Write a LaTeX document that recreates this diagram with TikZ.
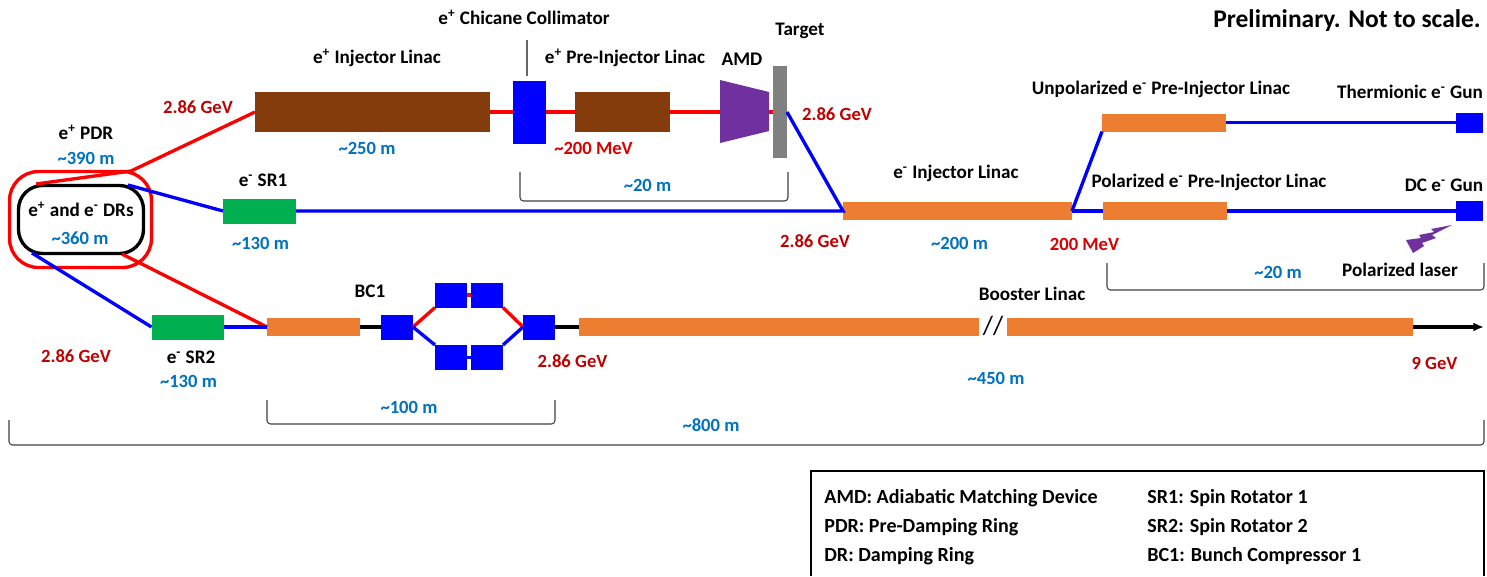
\documentclass[tikz,border=0pt]{standalone}
\usepackage{fontspec}
\setmainfont{Carlito}
\usetikzlibrary{arrows.meta}
\definecolor{beamred}{HTML}{FF0000}
\definecolor{beamblue}{HTML}{0000FF}
\definecolor{linacorange}{HTML}{ED7D31}
\definecolor{linacbrown}{HTML}{843C0C}
\definecolor{rotgreen}{HTML}{00B050}
\definecolor{amdpurple}{HTML}{7030A0}
\definecolor{energyred}{HTML}{C00000}
\definecolor{lengthblue}{HTML}{0070C0}
\tikzset{
  blockbox/.style={inner sep=0pt, outer sep=0pt},
  brownbox/.style={blockbox, fill=linacbrown, minimum height=0.8cm},
  orangebox/.style={blockbox, fill=linacorange, minimum height=0.36cm},
  greenbox/.style={blockbox, fill=rotgreen, minimum width=1.46cm, minimum height=0.5cm},
  magnet/.style={blockbox, fill=beamblue, minimum width=0.64cm, minimum height=0.5cm},
  lab/.style={font=\fontsize{10.9pt}{12pt}\selectfont\bfseries, text=black, inner sep=0pt},
  keylab/.style={lab, font=\fontsize{11.4pt}{13pt}\selectfont\bfseries, anchor=base west},
  enlab/.style={lab, font=\fontsize{10.6pt}{12pt}\selectfont\bfseries, text=energyred},
  distlab/.style={enlab, text=lengthblue},
  redline/.style={beamred, line width=1.9pt},
  blueline/.style={beamblue, line width=1.9pt},
  blackline/.style={black, line width=1.9pt},
  spanline/.style={black!75, line width=0.6pt, rounded corners=2pt},
}
\begin{document}
\begin{tikzpicture}[>={Latex[length=6pt,width=5pt]}, x=0.02cm, y=-0.02cm]
\useasboundingbox (0,0) rectangle (1487,576);

\node[blockbox, draw=beamred, line width=1.9pt, rounded corners=0.58cm, minimum width=2.84cm, minimum height=1.92cm] (pdrring) at (80.5,219.5) {};
\node[blockbox, draw=black, line width=1.9pt, rounded corners=0.48cm, minimum width=2.5cm, minimum height=1.36cm] (drring) at (81,219.5) {};

\node[brownbox, minimum width=4.7cm] (inlinac) at (372.5,112) {};
\node[magnet, minimum height=1.26cm, minimum width=0.66cm] (collimator) at (529.5,112) {};
\node[brownbox, minimum width=1.9cm] (prelinac) at (622.5,112) {};
\node[blockbox, fill=black!50, minimum width=0.28cm, minimum height=1.84cm] (target) at (780,112) {};
\fill[amdpurple] (720,80) -- (769,92) -- (769,131) -- (720,143) -- cycle;
\coordinate (amdin) at (720,112);
\coordinate (amdout) at (769,112);

\node[orangebox, minimum width=4.58cm] (emlinac) at (957.5,211) {};
\node[orangebox, minimum width=2.48cm] (unpollinac) at (1164,122.5) {};
\node[orangebox, minimum width=2.48cm] (pollinac) at (1165,211) {};
\node[magnet, minimum width=0.54cm, minimum height=0.4cm] (thermgun) at (1469.5,122.5) {};
\node[magnet, minimum width=0.54cm, minimum height=0.4cm] (dcgun) at (1469.5,211) {};

\node[greenbox] (srone) at (259.5,211) {};
\node[greenbox] (srtwo) at (188,327) {};
\node[orangebox, minimum width=1.86cm] (bclinac) at (313.5,327) {};
\node[magnet] (bcin) at (397,327) {};
\node[magnet] (bcupa) at (451,295) {};
\node[magnet] (bcupb) at (487,295) {};
\node[magnet] (bclowa) at (451,357.5) {};
\node[magnet] (bclowb) at (487,357.5) {};
\node[magnet] (bcout) at (539,327) {};
\node[orangebox, minimum width=8cm] (boosta) at (779,327) {};
\node[orangebox, minimum width=8.12cm] (boostb) at (1210,327) {};
\coordinate (beamend) at (1484,327);

\coordinate (pdrtop) at (131,171);
\coordinate (pdrin) at (36,184);
\coordinate (srinjoin) at (128,185);
\coordinate (drout) at (122,254);
\coordinate (drlow) at (32,253);
\coordinate (bcinjoin) at (267,327);
\coordinate (emjoin) at (843,211);
\coordinate (gunjoin) at (1072,211);
\coordinate (targetout) at (787,112);

\draw[redline] (inlinac.west) -- (pdrtop) -- (pdrin);
\draw[redline] (inlinac.east) -- (collimator.west);
\draw[redline] (collimator.east) -- (prelinac.west);
\draw[redline] (prelinac.east) -- (amdin);
\draw[redline] (amdout) -- (target.west);
\draw[redline] (drout) -- (bcinjoin);
\draw[blueline] (targetout) -- (emjoin) -- (srone.east);
\draw[blueline] (srone.west) -- (srinjoin);
\draw[blueline] (drlow) -- (srtwo.west);
\draw[blueline] (srtwo.east) -- (bcinjoin);
\draw[blueline] (gunjoin) -- (unpollinac.south west);
\draw[blueline] (gunjoin) -- (pollinac.west);
\draw[blueline] (unpollinac.east) -- (thermgun.west);
\draw[blueline] (pollinac.east) -- (dcgun.west);
\draw[blackline] (bclinac.east) -- (bcin.west);
\draw[blackline] (bcout.east) -- (boosta.west);
\draw[blackline, ->] (boostb.east) -- (beamend);
\draw[redline] (bcin.east) -- (bcupa.south west);
\draw[redline] (bcupa.east) -- (bcupb.west);
\draw[redline] (bcupb.south east) -- (bcout.west);
\draw[blueline] (bcin.east) -- (bclowa.north west);
\draw[blueline] (bclowa.east) -- (bclowb.west);
\draw[blueline] (bclowb.north east) -- (bcout.west);

\coordinate (colltop) at (527,40);
\draw[black!60, line width=0.7pt] (colltop) -- (527,76);

\fill[amdpurple] (1452,225) -- (1431,229) -- (1434,232) -- (1419,235) -- (1421,238) -- (1406,240) -- (1413,253) -- (1424,246) -- (1422,243) -- (1436,238) -- (1432,235) -- cycle;

\draw[spanline] (520,172) -- (520,201) -- (788,201) -- (788,172);
\draw[spanline] (1107,263) -- (1107,290) -- (1484,290) -- (1484,263);
\draw[spanline] (267,400) -- (267,424) -- (555,424) -- (555,400);
\draw[spanline] (9,420) -- (9,445) -- (1484,445) -- (1484,420);

\node[lab] (chicanelab) at (524,17) {e\textsuperscript{+} Chicane Collimator};
\node[lab] (targetlab) at (800,31) {Target};
\node[lab, font=\fontsize{14.5pt}{16pt}\selectfont\bfseries] (prelimlab) at (1347,21) {Preliminary. Not to scale.};
\node[lab] (inlinaclab) at (377,58) {e\textsuperscript{+} Injector Linac};
\node[lab] (prelinaclab) at (625,58) {e\textsuperscript{+} Pre-Injector Linac};
\node[lab, font=\fontsize{11pt}{13pt}\selectfont\bfseries] (amdlab) at (742,59) {AMD};
\node[lab] (unpollab) at (1161,89) {Unpolarized e\textsuperscript{-} Pre-Injector Linac};
\node[lab] (thermlab) at (1410,92) {Thermionic e\textsuperscript{-} Gun};
\node[lab] (emlinaclab) at (956,173) {e\textsuperscript{-} Injector Linac};
\node[lab] (pollab) at (1209,182) {Polarized e\textsuperscript{-} Pre-Injector Linac};
\node[lab] (dclab) at (1444,185) {DC e\textsuperscript{-} Gun};
\node[lab] (pdrlab) at (86,132) {e\textsuperscript{+} PDR};
\node[lab] (drlab) at (81,209) {e\textsuperscript{+} and e\textsuperscript{-} DRs};
\node[lab] (sronelab) at (263,180) {e\textsuperscript{-} SR1};
\node[lab] (srtwolab) at (191,357) {e\textsuperscript{-} SR2};
\node[lab] (laserlab) at (1400,270) {Polarized laser};
\node[lab] (bclab) at (370,291) {BC1};
\node[lab] (boostlab) at (1032,294) {Booster Linac};
\node[lab, font=\fontsize{15pt}{17pt}\selectfont] (breaklab) at (993,326) {//};

\node[enlab] (eninlinac) at (198,107) {2.86 GeV};
\node[enlab, text=beamred!85!black] (enpre) at (593.5,148) {\textasciitilde 200 MeV};
\node[enlab] (entarget) at (837,114) {2.86 GeV};
\node[enlab] (enem) at (815,241) {2.86 GeV};
\node[enlab, text=beamred!85!black] (engun) at (1084.5,244) {200 MeV};
\node[enlab] (ensrtwo) at (76,356) {2.86 GeV};
\node[enlab] (enbc) at (572.5,361) {2.86 GeV};
\node[enlab] (enfinal) at (1434.5,363) {9 GeV};

\node[distlab] (lenpdr) at (86,158) {\textasciitilde 390 m};
\node[distlab] (lendr) at (80,238) {\textasciitilde 360 m};
\node[distlab] (leninlinac) at (367,148) {\textasciitilde 250 m};
\node[distlab] (lenpos) at (647.5,185) {\textasciitilde 20 m};
\node[distlab] (lensrone) at (260.5,243) {\textasciitilde 130 m};
\node[distlab] (lenem) at (959.5,243) {\textasciitilde 200 m};
\node[distlab] (lengun) at (1278,272) {\textasciitilde 20 m};
\node[distlab] (lensrtwo) at (188.5,381) {\textasciitilde 130 m};
\node[distlab] (lenbc) at (409,407) {\textasciitilde 100 m};
\node[distlab] (lenboost) at (996,378) {\textasciitilde 450 m};
\node[distlab] (lentotal) at (711,425) {\textasciitilde 800 m};

\draw[black, line width=1pt] (811,576) -- (811,471) -- (1484,471) -- (1484,576);
\node[keylab] (amdkey) at (824,503) {AMD: Adiabatic Matching Device};
\node[keylab] (pdrkey) at (824,532) {PDR: Pre-Damping Ring};
\node[keylab] (drkey) at (824,561) {DR: Damping Ring};
\node[keylab] (sronekey) at (1147,503) {SR1: Spin Rotator 1};
\node[keylab] (srtwokey) at (1147,532) {SR2: Spin Rotator 2};
\node[keylab] (bckey) at (1147,561) {BC1: Bunch Compressor 1};
\end{tikzpicture}
\end{document}
